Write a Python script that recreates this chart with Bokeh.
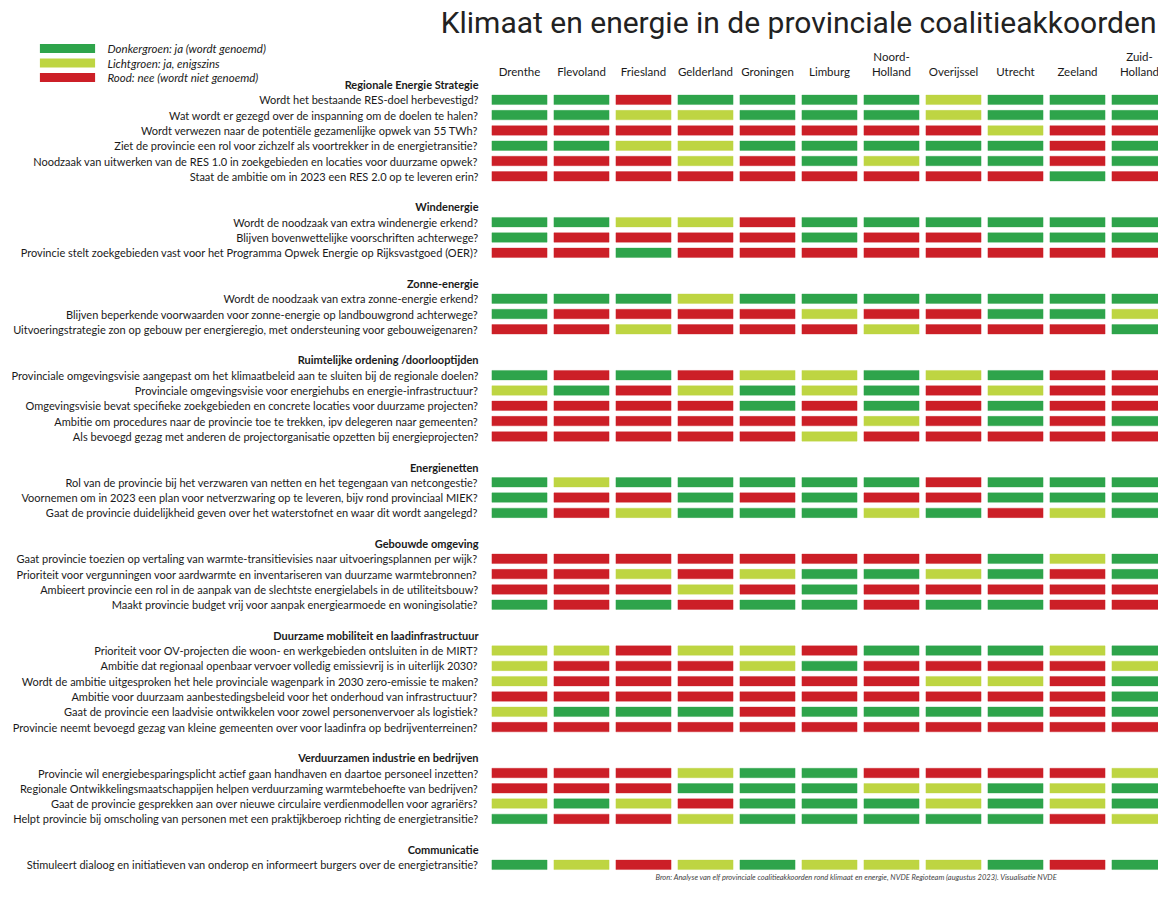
from bokeh.plotting import figure
from bokeh.models import ColumnDataSource, Range1d
from bokeh.core.properties import value
from bokeh.embed import file_html
from bokeh.resources import INLINE

# ---------------- data ----------------
provinces = ["Drenthe", "Flevoland", "Friesland", "Gelderland", "Groningen", "Limburg",
             "Noord-Holland", "Overijssel", "Utrecht", "Zeeland", "Zuid-Holland"]

legend_codes = ["G", "L", "R"]
legend_labels = ["Donkergroen: ja (wordt genoemd)",
                 "Lichtgroen: ja, enigszins",
                 "Rood: nee (wordt niet genoemd)"]

sections = ["Regionale Energie Strategie", "Windenergie", "Zonne-energie",
            "Ruimtelijke ordening /doorlooptijden", "Energienetten", "Gebouwde omgeving",
            "Duurzame mobiliteit en laadinfrastructuur", "Verduurzamen industrie en bedrijven",
            "Communicatie"]

questions_res = [
    "Wordt het bestaande RES-doel herbevestigd?",
    "Wat wordt er gezegd over de inspanning om de doelen te halen?",
    "Wordt verwezen naar de potentiële gezamenlijke opwek van 55 TWh?",
    "Ziet de provincie een rol voor zichzelf als voortrekker in de energietransitie?",
    "Noodzaak van uitwerken van de RES 1.0 in zoekgebieden en locaties voor duurzame opwek?",
    "Staat de ambitie om in 2023 een RES 2.0 op te leveren erin?",
]
values_res = ["GGRGGGGLGGG", "GGLLGGGLGGG", "RRRRRRRRLRR", "GGLLGGGGGRG", "RRRLRGLGGRG", "RRRRRRRRRGR"]

questions_wind = [
    "Wordt de noodzaak van extra windenergie erkend?",
    "Blijven bovenwettelijke voorschriften achterwege?",
    "Provincie stelt zoekgebieden vast voor het Programma Opwek Energie op Rijksvastgoed (OER)?",
]
values_wind = ["GGLLRGGGGGG", "GRRRRGRRGGG", "RRGRRRRRRRR"]

questions_zon = [
    "Wordt de noodzaak van extra zonne-energie erkend?",
    "Blijven beperkende voorwaarden voor zonne-energie op landbouwgrond achterwege?",
    "Uitvoeringstrategie zon op gebouw per energieregio, met ondersteuning voor gebouweigenaren?",
]
values_zon = ["GGGLGGGGGGG", "GRRRRLRRGGL", "RRLRRRLRRRG"]

questions_ro = [
    "Provinciale omgevingsvisie aangepast om het klimaatbeleid aan te sluiten bij de regionale doelen?",
    "Provinciale omgevingsvisie voor energiehubs en energie-infrastructuur?",
    "Omgevingsvisie bevat specifieke zoekgebieden en concrete locaties voor duurzame projecten?",
    "Ambitie om procedures naar de provincie toe te trekken, ipv delegeren naar gemeenten?",
    "Als bevoegd gezag met anderen de projectorganisatie opzetten bij energieprojecten?",
]
values_ro = ["GRGRLLGLGRR", "LGRLGLGRLRR", "RRRRGRGRGRR", "RRRRRRLRGRG", "RRRRRLRRRRR"]

questions_net = [
    "Rol van de provincie bij het verzwaren van netten en het tegengaan van netcongestie?",
    "Voornemen om in 2023 een plan voor netverzwaring op te leveren, bijv rond provinciaal MIEK?",
    "Gaat de provincie duidelijkheid geven over het waterstofnet en waar dit wordt aangelegd?",
]
values_net = ["GLGGGGGRGGG", "GRRGRGRRGGG", "GRLGGGLGRLG"]

questions_geb = [
    "Gaat provincie toezien op vertaling van warmte-transitievisies naar uitvoeringsplannen per wijk?",
    "Prioriteit voor vergunningen voor aardwarmte en inventariseren van duurzame warmtebronnen?",
    "Ambieert provincie een rol in de aanpak van de slechtste energielabels in de utiliteitsbouw?",
    "Maakt provincie budget vrij voor aanpak energiearmoede en woningisolatie?",
]
values_geb = ["RRRRRRRRGLG", "RRLRLGGLGRG", "RRRLRGRRRRR", "GRGRGGRGGRR"]

questions_mob = [
    "Prioriteit voor OV-projecten die woon- en werkgebieden ontsluiten in de MIRT?",
    "Ambitie dat regionaal openbaar vervoer volledig emissievrij is in uiterlijk 2030?",
    "Wordt de ambitie uitgesproken het hele provinciale wagenpark in 2030 zero-emissie te maken?",
    "Ambitie voor duurzaam aanbestedingsbeleid voor het onderhoud van infrastructuur?",
    "Gaat de provincie een laadvisie ontwikkelen voor zowel personenvervoer als logistiek?",
    "Provincie neemt bevoegd gezag van kleine gemeenten over voor laadinfra op bedrijventerreinen?",
]
values_mob = ["LLRLLRGGGLG", "LRRRLGRRRRL", "LRRRRRRLLRG", "RRRRRRRRRRG", "LGGGRGGGGRG", "RRRRRRRRRRR"]

questions_ind = [
    "Provincie wil energiebesparingsplicht actief gaan handhaven en daartoe personeel inzetten?",
    "Regionale Ontwikkelingsmaatschappijen helpen verduurzaming warmtebehoefte van bedrijven?",
    "Gaat de provincie gesprekken aan over nieuwe circulaire verdienmodellen voor agrariërs?",
    "Helpt provincie bij omscholing van personen met een praktijkberoep richting de energietransitie?",
]
values_ind = ["RRRLGGRRRRL", "RRRGGGLLGLG", "LGLRGGGLGLG", "GRRLGGGGGRL"]

questions_com = [
    "Stimuleert dialoog en initiatieven van onderop en informeert burgers over de energietransitie?",
]
values_com = ["GLRLGLLLGRG"]

title = "Klimaat en energie in de provinciale coalitieakkoorden"
source_note = ("Bron: Analyse van elf provinciale coalitieakkoorden rond klimaat en energie, "
               "NVDE Regioteam (augustus 2023). Visualisatie NVDE")

# ---------------- styling / layout ----------------
colors = {"G": "#2ea44b", "L": "#bed542", "R": "#cc1f27"}
TXT = "#1a1a1a"
W, H = 1158, 881
X0_PX, DX_PX = 519.0, 62.0      # centre of first column, column pitch (px)
Y0_PX, DY_PX = 84.0, 15.3       # first slot, slot pitch (px)


def xpx(px):
    return (px - X0_PX) / DX_PX


def ypx(py):
    return (py - Y0_PX) / DY_PX


section_data = list(zip(sections,
                        [questions_res, questions_wind, questions_zon, questions_ro, questions_net,
                         questions_geb, questions_mob, questions_ind, questions_com],
                        [values_res, values_wind, values_zon, values_ro, values_net,
                         values_geb, values_mob, values_ind, values_com]))

cell_x, cell_y, cell_c = [], [], []
q_y, q_t = [], []
h_y, h_t = [], []
slot = 0
for sec, qs, vals in section_data:
    h_y.append(slot)
    h_t.append(sec)
    slot += 1
    for q, v in zip(qs, vals):
        q_y.append(slot)
        q_t.append(q)
        for ci, code in enumerate(v):
            cell_x.append(ci)
            cell_y.append(slot)
            cell_c.append(colors[code])
        slot += 1
    slot += 1  # blank separator

p = figure(width=W, height=H,
           x_range=Range1d(xpx(0), xpx(W)), y_range=Range1d(ypx(H), ypx(0)),
           x_axis_type=None, y_axis_type=None,
           output_backend="svg", toolbar_location=None, min_border=0)
p.grid.visible = False
p.outline_line_color = None
p.background_fill_color = "white"
p.border_fill_color = "white"

# cells
cells = ColumnDataSource(dict(x=cell_x, y=cell_y, c=cell_c))
p.rect(x="x", y="y", width=0.89, height=0.62, fill_color="c", line_color="c",
       line_alpha=0.35, line_width=1, source=cells)

label_x = xpx(478)
# questions
p.text(x=[label_x] * len(q_t), y=q_y, text=q_t, text_align="right", text_baseline="middle",
       text_font=value("Lato"), text_font_size="11px", text_color=TXT)
# section headers
p.text(x=[label_x] * len(h_t), y=h_y, text=h_t, text_align="right", text_baseline="middle",
       text_font=value("Lato"), text_font_size="11px", text_font_style="bold", text_color=TXT)

# province labels (two lines where hyphenated)
line1, line2 = [], []
for name in provinces:
    if "-" in name:
        a, b = name.split("-", 1)
        line1.append(a + "-")
        line2.append(b)
    else:
        line1.append("")
        line2.append(name)
cols = list(range(len(provinces)))
p.text(x=cols, y=[ypx(71)] * len(cols), text=line2, text_align="center", text_baseline="middle",
       text_font=value("Lato"), text_font_size="11.5px", text_color=TXT)
p.text(x=cols, y=[ypx(56)] * len(cols), text=line1, text_align="center", text_baseline="middle",
       text_font=value("Lato"), text_font_size="11.5px", text_color=TXT)

# legend
leg_y = [ypx(48), ypx(62.5), ypx(77)]
p.rect(x=[xpx(67)] * 3, y=leg_y, width=0.89, height=0.6,
       fill_color=[colors[c] for c in legend_codes], line_color=None)
p.text(x=[xpx(107)] * 3, y=leg_y, text=legend_labels, text_align="left", text_baseline="middle",
       text_font=value("Lato"), text_font_size="11.5px", text_font_style="italic", text_color=TXT)

# title
p.text(x=[xpx(1156)], y=[ypx(22)], text=[title], text_align="right", text_baseline="middle",
       text_font=value("Roboto"), text_font_size="30px", text_color="#222222")

# source
p.text(x=[xpx(655)], y=[ypx(877)], text=[source_note], text_align="left",
       text_baseline="alphabetic", text_font=value("Lato"), text_font_size="7.5px",
       text_font_style="italic", text_color="#444444")

open("out.html", "w").write(file_html(p, INLINE))
